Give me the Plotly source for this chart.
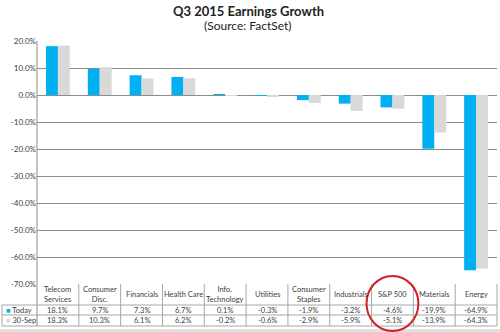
import plotly.graph_objects as go

categories = ["Telecom<br>Services", "Consumer<br>Disc.", "Financials", "Health Care",
              "Info.<br>Technology", "Utilities", "Consumer<br>Staples", "Industrials",
              "S&P 500", "Materials", "Energy"]
today = [18.1, 9.7, 7.3, 6.7, 0.1, -0.3, -1.9, -3.2, -4.6, -19.9, -64.9]
sep30 = [18.3, 10.3, 6.1, 6.2, -0.2, -0.6, -2.9, -5.9, -5.1, -13.9, -64.3]
series_names = ["Today", "30-Sep"]
y_ticks = [20, 10, 0, -10, -20, -30, -40, -50, -60, -70]
highlight = "S&P 500"

BLUE = "#00B0F0"
GRAY = "#D9D9D9"
W, H = 500, 332
ML, MR, MT, MB = 37, 3, 41, 48
PW, PH = W - ML - MR, H - MT - MB

n = len(categories)
xs = list(range(n))

def px_y(py):
    return (H - MB - py) / PH

def px_x(px):
    return (px - ML) / PW

def col_x(i):
    return (i + 0.5) / n

fig = go.Figure()
fig.add_trace(go.Bar(x=xs, y=today, name=series_names[0], marker_color=BLUE, marker_line_width=0))
fig.add_trace(go.Bar(x=xs, y=sep30, name=series_names[1], marker_color=GRAY, marker_line_width=0))

shapes = []
annotations = []
LINE = "#A6A6A6"
GRID = "#8C8C8C"

# table geometry (paper y)
y_top = 0.0
y_hdr = px_y(H - MB + 21)
y_r1 = px_y(H - MB + 31)
y_bot = px_y(H - MB + 42)
x_leg = px_x(2)

# left axis line extending through the table
shapes.append(dict(type="line", xref="paper", yref="paper", x0=0, x1=0, y0=1, y1=y_bot,
                   line=dict(color=GRID, width=1)))
# vertical column separators
for i in range(1, n + 1):
    xp = i / n
    shapes.append(dict(type="line", xref="paper", yref="paper", x0=xp, x1=xp, y0=y_top, y1=y_bot,
                       line=dict(color=LINE, width=1)))
# legend column left border
shapes.append(dict(type="line", xref="paper", yref="paper", x0=x_leg, x1=x_leg, y0=y_hdr, y1=y_bot,
                   line=dict(color=LINE, width=1)))
# horizontal table lines
for yy in [y_hdr, y_r1, y_bot]:
    shapes.append(dict(type="line", xref="paper", yref="paper", x0=x_leg, x1=1, y0=yy, y1=yy,
                       line=dict(color=LINE, width=1)))
# bottom frame strip
shapes.append(dict(type="rect", xref="paper", yref="paper", x0=px_x(0), x1=px_x(W), y0=px_y(329), y1=px_y(332),
                   line=dict(width=0), fillcolor="#E0E0E0"))

TF = dict(family="Lato, Open Sans, sans-serif", size=7.5, color="#404040")
for i, c in enumerate(categories):
    annotations.append(dict(xref="paper", yref="paper", x=col_x(i), y=(y_top + y_hdr) / 2,
                            text=c, showarrow=False, font=TF, xanchor="center", yanchor="middle"))
    annotations.append(dict(xref="paper", yref="paper", x=col_x(i), y=(y_hdr + y_r1) / 2,
                            text=f"{today[i]:.1f}%", showarrow=False, font=TF,
                            xanchor="center", yanchor="middle"))
    annotations.append(dict(xref="paper", yref="paper", x=col_x(i), y=(y_r1 + y_bot) / 2,
                            text=f"{sep30[i]:.1f}%", showarrow=False, font=TF,
                            xanchor="center", yanchor="middle"))

for name, color, (ya, yb) in [(series_names[0], BLUE, (y_hdr, y_r1)), (series_names[1], GRAY, (y_r1, y_bot))]:
    annotations.append(dict(xref="paper", yref="paper", x=x_leg + 0.004, y=(ya + yb) / 2,
                            text=f"<span style='color:{color}'>■</span> {name}", showarrow=False,
                            font=TF, xanchor="left", yanchor="middle"))

# highlight ellipse around S&P 500 column
hi = categories.index(highlight)
cx = col_x(hi)
half = 0.62 / n
shapes.append(dict(type="circle", xref="paper", yref="paper", x0=cx - half, x1=cx + half,
                   y0=px_y(331), y1=px_y(276), line=dict(color="#D0202A", width=2)))

# titles
annotations.append(dict(xref="paper", yref="paper", x=px_x(248), y=px_y(11), text="<b>Q3 2015 Earnings Growth</b>",
                        showarrow=False, font=dict(family="Lato, sans-serif", size=13, color="#222222"),
                        xanchor="center", yanchor="middle"))
annotations.append(dict(xref="paper", yref="paper", x=px_x(248), y=px_y(25), text="(Source: FactSet)",
                        showarrow=False, font=dict(family="Lato, sans-serif", size=12, color="#222222"),
                        xanchor="center", yanchor="middle"))

fig.update_layout(
    width=W, height=H,
    margin=dict(l=ML, r=MR, t=MT, b=MB, pad=0),
    paper_bgcolor="white", plot_bgcolor="white",
    barmode="group", bargap=0.43, bargroupgap=0,
    showlegend=False,
    shapes=shapes, annotations=annotations,
    xaxis=dict(range=[-0.5, n - 0.5], showticklabels=False, showgrid=False, zeroline=False, fixedrange=True),
    yaxis=dict(range=[y_ticks[-1], y_ticks[0]], tickvals=y_ticks, ticktext=[f"{v:.1f}%" for v in y_ticks],
               showgrid=True, gridcolor=GRID, gridwidth=1, zeroline=False,
               tickfont=dict(family="Lato, sans-serif", size=8, color="#404040"), ticks="", ticklen=0),
)

fig.write_html("out.html")
